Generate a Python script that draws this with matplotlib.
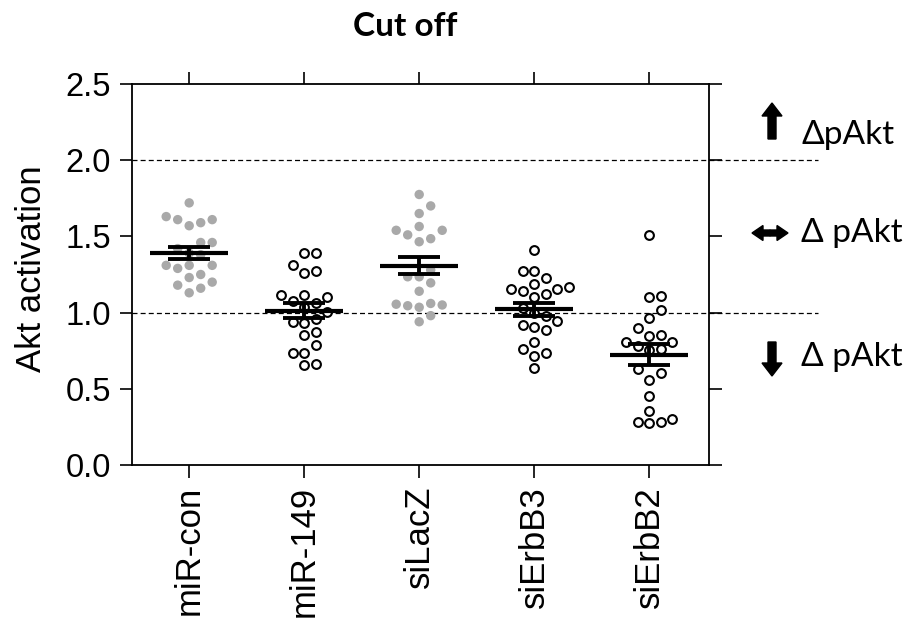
import numpy as np
import matplotlib.pyplot as plt
from matplotlib.patches import FancyArrow

groups = ['miR-con', 'miR-149', 'siLacZ', 'siErbB3', 'siErbB2']

mir_con = [1.72, 1.63, 1.61, 1.61, 1.57, 1.59, 1.46, 1.46, 1.42, 1.39, 1.38,
           1.31, 1.31, 1.31, 1.29, 1.25, 1.23, 1.18, 1.20, 1.13, 1.16]
mir_149 = [1.39, 1.39, 1.275, 1.26, 1.31, 1.115, 1.10, 1.115, 1.075, 1.035, 1.065,
           1.005, 0.94, 0.93, 0.955, 0.85, 0.875, 0.79, 0.735, 0.735, 0.655, 0.665]
si_lacz = [1.775, 1.70, 1.65, 1.54, 1.565, 1.54, 1.485, 1.465, 1.51, 1.28, 1.235,
           1.235, 1.195, 1.14, 1.055, 1.045, 1.035, 1.05, 1.06, 0.98, 0.94]
si_erbb3 = [1.41, 1.275, 1.275, 1.23, 1.19, 1.165, 1.155, 1.12, 1.14, 1.155, 1.10,
            1.03, 1.00, 0.975, 0.945, 0.885, 0.92, 0.905, 0.81, 0.735, 0.715, 0.76, 0.635]
si_erbb2 = [1.51, 1.11, 1.10, 1.015, 0.965, 0.90, 0.855, 0.845, 0.805, 0.805, 0.78,
            0.755, 0.76, 0.605, 0.63, 0.56, 0.455, 0.355, 0.285, 0.275, 0.28, 0.30]

all_data = [mir_con, mir_149, si_lacz, si_erbb3, si_erbb2]
filled = [True, False, True, False, False]

yticks = [0.0, 0.5, 1.0, 1.5, 2.0, 2.5]
cutoffs = [1.0, 2.0]


def swarm(vals, step=0.1, gap=0.075):
    # simple column scatter: put each point in the nearest free column
    order = np.argsort(vals)
    offs = np.zeros(len(vals))
    placed = []
    cands = [0, 1, -1, 2, -2, 3, -3, 4, -4]
    for i in order:
        for c in cands:
            ok = True
            for (pc, pv) in placed:
                if pc == c and abs(pv - vals[i]) < gap:
                    ok = False
                    break
            if ok:
                offs[i] = c * step
                placed.append((c, vals[i]))
                break
    return offs


fig = plt.figure(figsize=(9.09, 6.26), dpi=100)
ax = fig.add_axes([131.7 / 909, 1 - 465 / 626, (709 - 131.7) / 909, (465 - 84) / 626])

for i, vals in enumerate(all_data):
    vals = np.array(vals)
    x = i + swarm(vals)
    if filled[i]:
        ax.scatter(x, vals, s=46, color='#a9a9a9', edgecolors='none', zorder=2)
    else:
        ax.scatter(x, vals, s=40, facecolors='white', edgecolors='black', linewidths=1.5, zorder=2)
    m = vals.mean()
    sem = vals.std(ddof=1) / np.sqrt(len(vals))
    ax.hlines(m, i - 0.34, i + 0.34, color='black', lw=3.0, zorder=3)
    ax.errorbar(i, m, yerr=sem, fmt='none', ecolor='black', elinewidth=2.8,
                capsize=15, capthick=2.8, zorder=3)

for c in cutoffs:
    ax.plot([-0.5, 5.47], [c, c], color='black', lw=0.9, dashes=(4, 2.5),
            clip_on=False, zorder=1)

ax.set_xlim(-0.5, 4.52)
ax.set_ylim(0, 2.5)
ax.set_yticks(yticks)
ax.set_yticklabels(['%.1f' % t for t in yticks], fontsize=23.5, family='Liberation Sans')
ax.set_xticks(range(len(groups)))
ax.set_xticklabels(groups, rotation=90, fontsize=25, family='Liberation Sans')
ax.tick_params(direction='out', length=9, width=1.2, top=True, right=True,
               labeltop=False, labelright=False, pad=6, colors='black')
for sp in ax.spines.values():
    sp.set_linewidth(1.3)

fig.text(32 / 909, 1 - 269 / 626, 'Akt activation', rotation=90, ha='center', va='center',
         fontsize=25, family='Liberation Sans')
fig.text(405 / 909, 1 - 27 / 626, 'Cut off', ha='center', va='center',
         fontsize=24, fontweight='bold', family=['Lato', 'DejaVu Sans'])

right_labels = ['\u0394pAkt', '\u0394 pAkt', '\u0394 pAkt']
label_y = [135, 233, 357]
for txt, y in zip(right_labels, label_y):
    fig.text(801 / 909, 1 - y / 626, txt, ha='left', va='center', fontsize=24,
             family=['Lato', 'DejaVu Sans'])

# block arrows next to the labels (inches, dpi 100)
arr = dict(width=0.08, head_width=0.2, head_length=0.13, length_includes_head=True,
           color='black', transform=fig.dpi_scale_trans)
fig.add_artist(FancyArrow(7.72, (626 - 139) / 100, 0, 0.36, **arr))
fig.add_artist(FancyArrow(7.72, (626 - 342) / 100, 0, -0.34, **arr))
arr2 = dict(width=0.06, head_width=0.15, head_length=0.11, length_includes_head=True,
            color='black', transform=fig.dpi_scale_trans)
fig.add_artist(FancyArrow(7.70, (626 - 233) / 100, -0.18, 0, **arr2))
fig.add_artist(FancyArrow(7.70, (626 - 233) / 100, 0.18, 0, **arr2))

fig.savefig('out.png', dpi=100, facecolor='white')
